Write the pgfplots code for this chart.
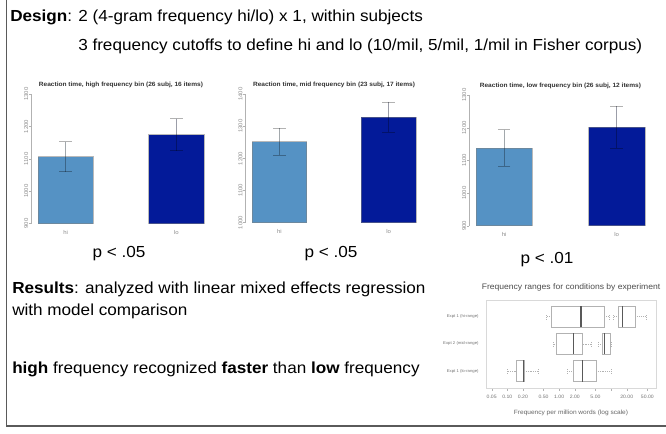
\documentclass[border=0pt]{standalone}
\usepackage{fontspec}
\setmainfont{Liberation Sans}[FakeStretch=1.07]
\usepackage{pgfplots}
\pgfplotsset{compat=1.18}
\usepgfplotslibrary{statistics}
\definecolor{hiblue}{RGB}{85,146,196}
\definecolor{loblue}{RGB}{3,26,153}
\definecolor{framegray}{RGB}{90,90,90}
\newcommand{\main}{\fontsize{12pt}{14pt}\selectfont}
\pgfplotsset{
  barchart/.style={
    scale only axis, anchor=south west,
    xmin=0.69, xmax=2.31,
    axis x line*=bottom, axis y line*=left,
    x axis line style={draw=none},
    y axis line style={draw=black!30},
    xtick={1,2}, xticklabels={hi,lo},
    x tick style={draw=none},
    y tick style={draw=black!30},
    tick align=outside, major tick length=1.6pt,
    /pgf/number format/.cd, 1000 sep={}, assume math mode=true, /pgfplots/.cd,
    ticklabel style={font=\fontsize{4.2pt}{5pt}\selectfont, text=black!45},
    yticklabel style={rotate=90, anchor=south, inner sep=0.5pt},
    xticklabel style={anchor=center, yshift=-5pt},
    title style={font=\bfseries\fontsize{4.6pt}{5.5pt}\selectfont, text=black!80, at={(0.5,1)}, anchor=base},
  },
  errs/.style={error bars/.cd, y dir=both, y explicit, error mark=-,
    error bar style={draw=black, draw opacity=0.3, line width=0.5pt},
    error mark options={rotate=90, draw=black, draw opacity=0.3, mark size=4.7pt, line width=0.5pt}},
  hibar/.style={ybar, bar width=0.5, bar shift=0, fill=hiblue, draw=black!50, draw opacity=0.55, errs},
  lobar/.style={ybar, bar width=0.5, bar shift=0, fill=loblue, draw=black!50, draw opacity=0.55, errs},
  boxstyle/.style={draw=black!30, line width=0.4pt,
    boxplot/every median/.style={draw=black!65, line width=0.9pt},
    boxplot/every whisker/.style={densely dotted}},
}
\begin{document}
\begin{tikzpicture}[x=0.75pt,y=-0.75pt]
\useasboundingbox[fill=white] (0,0) rectangle (666,433);
\draw[framegray, line width=1.1pt] (6.5,0) -- (6.5,426) -- (666,426);

\node[anchor=base west, inner sep=0] at (10,21) {\main\textbf{Design}: 2 (4-gram frequency hi/lo) x 1, within subjects};
\node[anchor=base west, inner sep=0] at (78,50.7) {\main 3 frequency cutoffs to define hi and lo (10/mil, 5/mil, 1/mil in Fisher corpus)};

\node[anchor=base, inner sep=0] at (119,257) {\main p < .05};
\node[anchor=base, inner sep=0] at (331,257) {\main p < .05};
\node[anchor=base, inner sep=0] at (547,263) {\main p < .01};

\node[anchor=base west, inner sep=0] at (12,293) {\main\textbf{Results}: analyzed with linear mixed effects regression};
\node[anchor=base west, inner sep=0] at (12,315) {\main with model comparison};
\node[anchor=base west, inner sep=0] at (12,373) {\main\textbf{high} frequency recognized \textbf{faster} than \textbf{low} frequency};

\coordinate (c1) at (31.3,223.5);
\coordinate (c2) at (245.5,222.5);
\coordinate (c3) at (469.3,225.7);
\coordinate (b1) at (486,388);

\begin{axis}[barchart, at={(c1)}, width=134.5pt, height=96.9pt,
  ymin=900, ymax=1300, ytick={900,1000,1100,1200,1300},
  title={Reaction time, high frequency bin (26 subj, 16 items)}]
\addplot[hibar] coordinates {(1,1107) +- (0,46)};
\addplot[lobar] coordinates {(2,1175) +- (0,50)};
\end{axis}

\begin{axis}[barchart, at={(c2)}, width=132.75pt, height=96.2pt,
  ymin=1000, ymax=1400, ytick={1000,1100,1200,1300,1400},
  title={Reaction time, mid frequency bin (23 subj, 17 items)}]
\addplot[hibar] coordinates {(1,1252) +- (0,43)};
\addplot[lobar] coordinates {(2,1329) +- (0,47)};
\end{axis}

\begin{axis}[barchart, at={(c3)}, width=136.7pt, height=98pt,
  ymin=900, ymax=1300, ytick={900,1000,1100,1200,1300},
  title={Reaction time, low frequency bin (26 subj, 12 items)}]
\addplot[hibar] coordinates {(1,1138) +- (0,56)};
\addplot[lobar] coordinates {(2,1202) +- (0,64)};
\end{axis}

\begin{axis}[at={(b1)}, anchor=south west, scale only axis,
  width=127.5pt, height=66pt,
  xmode=log, xmin=0.0389, xmax=73.3, ymin=0.373, ymax=3.616,
  boxplot/draw direction=x,
  axis line style={draw=black!15},
  ytick={1,2,3},
  yticklabels={Expt 1 (lo-range), Expt 2 (mid-range), Expt 1 (hi-range)},
  y tick style={draw=none},
  xtick={0.05,0.1,0.2,0.5,1,2,5,10,20,50},
  xticklabels={0.05,0.10,0.20,0.50,1.00,2.00,5.00,,20.00,50.00},
  xtick pos=bottom, ytick pos=left,
  x tick style={draw=black!30}, tick align=outside, major tick length=2pt,
  minor tick num=0,
  xticklabel style={font=\fontsize{3.6pt}{4pt}\selectfont, text=black!55, anchor=center, yshift=-5pt},
  yticklabel style={font=\fontsize{3pt}{3.5pt}\selectfont, text=black!55, anchor=east},
  title={Frequency ranges for conditions by experiment},
  title style={font=\fontsize{6pt}{7pt}\selectfont, text=black!70, at={(0.5,1)}, anchor=base, yshift=2pt},
  xlabel={Frequency per million words (log scale)},
  xlabel style={font=\fontsize{4.6pt}{5.5pt}\selectfont, text=black!60, at={(0.5,0)}, anchor=base, yshift=-20.2pt},
]
\addplot[boxstyle, boxplot prepared={draw position=3, lower whisker=0.557, lower quartile=0.71, median=2.63, upper quartile=7.4, upper whisker=9.3, box extend=0.78, whisker extend=0.2}] coordinates {};
\addplot[boxstyle, boxplot prepared={draw position=3, lower whisker=11, lower quartile=13.8, median=16.7, upper quartile=29.3, upper whisker=47, box extend=0.78, whisker extend=0.2}] coordinates {};
\addplot[boxstyle, boxplot prepared={draw position=2, lower whisker=0.77, lower quartile=0.895, median=1.87, upper quartile=2.84, upper whisker=4.23, box extend=0.78, whisker extend=0.2}] coordinates {};
\addplot[boxstyle, boxplot prepared={draw position=2, lower whisker=5.67, lower quartile=6.77, median=7.4, upper quartile=9.8, upper whisker=10.2, box extend=0.78, whisker extend=0.2}] coordinates {};
\addplot[boxstyle, boxplot prepared={draw position=1, lower whisker=0.1, lower quartile=0.147, median=0.203, upper quartile=0.21, upper whisker=0.396, box extend=0.78, whisker extend=0.2}] coordinates {};
\addplot[boxstyle, boxplot prepared={draw position=1, lower whisker=1.4, lower quartile=1.87, median=2.79, upper quartile=5.12, upper whisker=10.2, box extend=0.78, whisker extend=0.2}] coordinates {};
\end{axis}
\end{tikzpicture}
\end{document}
